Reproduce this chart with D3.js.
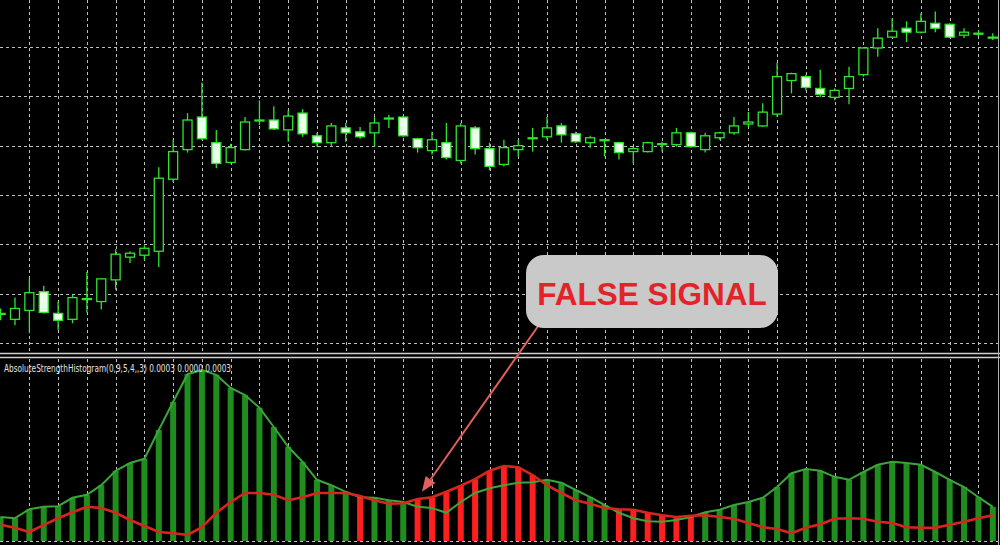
<!DOCTYPE html>
<html><head><meta charset="utf-8">
<script src="https://cdn.jsdelivr.net/npm/d3@7"></script>
<style>html,body{margin:0;padding:0;background:#000;overflow:hidden}</style>
</head><body><svg id="c" width="1000" height="545"></svg>
<script>
// ---- Price panel (OHLC per bar) ----
const open = [
1.35029,1.35024,1.35033,1.35052,1.35030,1.35024,1.35044,1.35042,1.35064,1.35087,
1.35089,1.35093,1.35166,1.35196,1.35229,1.35203,1.35183,1.35196,1.35225,1.35226,
1.35216,1.35233,1.35210,1.35203,1.35218,1.35214,1.35213,1.35227,1.35229,1.35207,
1.35195,1.35203,1.35185,1.35218,1.35197,1.35181,1.35196,1.35207,1.35209,1.35220,
1.35212,1.35203,1.35206,1.35203,1.35194,1.35194,1.35201,1.35201,1.35213,1.35196,
1.35208,1.35213,1.35222,1.35220,1.35232,1.35266,1.35270,1.35258,1.35249,1.35258,
1.35272,1.35299,1.35310,1.35319,1.35315,1.35324,1.35323,1.35312,1.35314,1.35310];
const high = [
1.35035,1.35046,1.35065,1.35058,1.35042,1.35049,1.35072,1.35065,1.35095,1.35093,
1.35099,1.35178,1.35206,1.35233,1.35264,1.35216,1.35202,1.35229,1.35246,1.35240,
1.35236,1.35237,1.35213,1.35223,1.35223,1.35219,1.35229,1.35231,1.35230,1.35208,
1.35214,1.35223,1.35223,1.35220,1.35203,1.35206,1.35206,1.35218,1.35229,1.35223,
1.35214,1.35210,1.35207,1.35204,1.35199,1.35204,1.35204,1.35218,1.35214,1.35213,
1.35214,1.35229,1.35234,1.35243,1.35284,1.35274,1.35272,1.35277,1.35258,1.35280,
1.35300,1.35319,1.35329,1.35326,1.35334,1.35336,1.35324,1.35319,1.35317,1.35314];
const low = [
1.35023,1.35018,1.35010,1.35030,1.35013,1.35020,1.35031,1.35034,1.35054,1.35081,
1.35084,1.35077,1.35163,1.35193,1.35206,1.35177,1.35182,1.35195,1.35221,1.35216,
1.35204,1.35209,1.35199,1.35199,1.35204,1.35207,1.35199,1.35218,1.35209,1.35193,
1.35191,1.35186,1.35182,1.35191,1.35175,1.35179,1.35189,1.35194,1.35206,1.35203,
1.35203,1.35198,1.35189,1.35186,1.35182,1.35193,1.35194,1.35199,1.35198,1.35193,
1.35206,1.35211,1.35219,1.35219,1.35229,1.35253,1.35256,1.35249,1.35246,1.35242,
1.35270,1.35290,1.35309,1.35305,1.35314,1.35315,1.35309,1.35309,1.35311,1.35307];
const close = [
1.35030,1.35035,1.35051,1.35031,1.35023,1.35046,1.35045,1.35065,1.35090,1.35091,
1.35096,1.35167,1.35194,1.35226,1.35207,1.35182,1.35198,1.35224,1.35226,1.35217,
1.35230,1.35212,1.35203,1.35220,1.35213,1.35209,1.35223,1.35228,1.35210,1.35198,
1.35206,1.35188,1.35220,1.35197,1.35179,1.35198,1.35200,1.35208,1.35218,1.35211,
1.35204,1.35208,1.35205,1.35193,1.35197,1.35203,1.35202,1.35213,1.35199,1.35210,
1.35213,1.35220,1.35224,1.35234,1.35270,1.35273,1.35259,1.35252,1.35256,1.35270,
1.35299,1.35309,1.35316,1.35315,1.35326,1.35319,1.35310,1.35315,1.35313,1.35309];
const priceTicks = [1.35000,1.35050,1.35100,1.35150,1.35200,1.35250,1.35300];

// ---- Absolute Strength Histogram (bulls / bears) ----
const bulls = [
0.000040,0.000038,0.000053,0.000057,0.000058,0.000072,0.000077,0.000093,0.000117,0.000130,
0.000137,0.000185,0.000232,0.000278,0.000285,0.000277,0.000255,0.000243,0.000222,0.000190,
0.000157,0.000132,0.000102,0.000093,0.000082,0.000073,0.000072,0.000068,0.000065,0.000057,
0.000055,0.000047,0.000065,0.000080,0.000088,0.000093,0.000097,0.000098,0.000102,0.000097,
0.000085,0.000073,0.000060,0.000047,0.000038,0.000033,0.000032,0.000035,0.000040,0.000048,
0.000052,0.000060,0.000065,0.000072,0.000090,0.000113,0.000120,0.000117,0.000107,0.000102,
0.000115,0.000127,0.000132,0.000130,0.000127,0.000115,0.000102,0.000090,0.000073,0.000057];
const bears = [
0.000027,0.000022,0.000015,0.000027,0.000038,0.000048,0.000057,0.000055,0.000047,0.000035,
0.000025,0.000015,0.000013,0.000010,0.000023,0.000047,0.000065,0.000080,0.000080,0.000077,
0.000068,0.000073,0.000080,0.000080,0.000080,0.000075,0.000068,0.000062,0.000063,0.000070,
0.000073,0.000082,0.000092,0.000103,0.000117,0.000125,0.000123,0.000110,0.000093,0.000080,
0.000068,0.000062,0.000055,0.000053,0.000052,0.000047,0.000043,0.000040,0.000042,0.000043,
0.000040,0.000037,0.000030,0.000023,0.000020,0.000013,0.000022,0.000028,0.000037,0.000038,
0.000037,0.000032,0.000030,0.000023,0.000022,0.000022,0.000027,0.000032,0.000038,0.000043];
const indicatorLabel = "AbsoluteStrengthHistogram(0,9,5,4,,3) 0.0003 0.0000 0.0003";
const callout = {text: "FALSE SIGNAL", index: 29.3, value: 0.000082};

const W = 1000, H = 545;
const svg = d3.select('#c');
svg.append('rect').attr('width', W).attr('height', H).attr('fill', '#000');

const n = open.length;
const x = d3.scaleLinear().domain([0, n - 1]).range([0.6, 992.8]);
const y = d3.scaleLinear().domain([1.35, 1.353]).range([343, 47]);
const yH = d3.scaleLinear().domain([0, 0.000305]).range([541, 358]);
const gridIdx = d3.range(2, n, 2);
const gridCol = '#bfbfbf';

// main grid
const g0 = svg.append('g').attr('stroke', gridCol).attr('stroke-width', 1).attr('stroke-dasharray', '3,3');
g0.selectAll('.h').data(priceTicks).join('line')
  .attr('x1', 0).attr('x2', 998).attr('y1', d => Math.round(y(d)) + 0.5).attr('y2', d => Math.round(y(d)) + 0.5);
g0.selectAll('.v').data(gridIdx).join('line')
  .attr('x1', d => Math.round(x(d)) + 0.5).attr('x2', d => Math.round(x(d)) + 0.5).attr('y1', 0).attr('y2', 352);
// bottom grid
const g1 = svg.append('g').attr('stroke', gridCol).attr('stroke-width', 1).attr('stroke-dasharray', '3,3');
g1.selectAll('line.v').data(gridIdx).join('line')
  .attr('x1', d => Math.round(x(d)) + 0.5).attr('x2', d => Math.round(x(d)) + 0.5).attr('y1', 359).attr('y2', 541);
g1.append('line').attr('x1', 0).attr('x2', 998).attr('y1', Math.round(yH(0)) + 0.5).attr('y2', Math.round(yH(0)) + 0.5);

// candles
const cG = '#2fe42f';
const candles = svg.append('g');
const idx = d3.range(n);
candles.selectAll('line.w').data(idx).join('line')
  .attr('x1', i => x(i)).attr('x2', i => x(i))
  .attr('y1', i => y(high[i])).attr('y2', i => y(low[i]))
  .attr('stroke', cG).attr('stroke-width', 1.3);
candles.selectAll('rect').data(idx).join('rect')
  .attr('x', i => x(i) - 4.5).attr('width', 9)
  .attr('y', i => y(Math.max(open[i], close[i])))
  .attr('height', i => Math.max(0.8, Math.abs(y(open[i]) - y(close[i]))))
  .attr('fill', i => close[i] >= open[i] ? '#000' : '#eaffea')
  .attr('stroke', cG).attr('stroke-width', 1.3);

// separators & border
svg.append('line').attr('x1', 0).attr('x2', W).attr('y1', 353.5).attr('y2', 353.5).attr('stroke', '#d0d0d0').attr('stroke-width', 1.5);
svg.append('line').attr('x1', 0).attr('x2', W).attr('y1', 357.5).attr('y2', 357.5).attr('stroke', '#d0d0d0').attr('stroke-width', 1.5);
svg.append('line').attr('x1', 998.5).attr('x2', 998.5).attr('y1', 0).attr('y2', H).attr('stroke', '#b0b0b0').attr('stroke-width', 1);

// histogram
const hist = svg.append('g');
hist.selectAll('rect').data(idx).join('rect')
  .attr('x', i => x(i) - 3).attr('width', 6)
  .attr('y', i => yH(Math.max(bulls[i], bears[i])))
  .attr('height', i => yH(0) - yH(Math.max(bulls[i], bears[i])))
  .attr('fill', i => bulls[i] >= bears[i] ? '#1f8e1f' : '#ff1f1f');
const line = d3.line().x((d, i) => x(i)).y(d => yH(d));
svg.append('path').attr('d', line(bulls)).attr('fill', 'none').attr('stroke', '#3aa63a').attr('stroke-width', 2);
svg.append('path').attr('d', line(bears)).attr('fill', 'none').attr('stroke', '#d8261c').attr('stroke-width', 2.6);

// indicator label
svg.append('text').attr('x', 4).attr('y', 372).text(indicatorLabel)
  .attr('fill', '#e0e0e0').attr('font-size', 10.5)
  .attr('font-family', 'Liberation Sans Narrow, DejaVu Sans Condensed, Liberation Sans, sans-serif')
  .attr('textLength', 227).attr('lengthAdjust', 'spacingAndGlyphs');

// callout box + arrow
const box = {x: 526, y: 255, w: 252, h: 73};
const tip = [x(callout.index), yH(callout.value)];
const start = [541, 322];
const ang = Math.atan2(tip[1] - start[1], tip[0] - start[0]);
const hl = 15, hw = 6;
const base = [tip[0] - hl * Math.cos(ang), tip[1] - hl * Math.sin(ang)];
svg.append('line').attr('x1', start[0]).attr('y1', start[1]).attr('x2', base[0]).attr('y2', base[1])
  .attr('stroke', '#e2605c').attr('stroke-width', 2);
svg.append('path').attr('d', d3.line()([tip,
  [base[0] + hw * Math.sin(ang), base[1] - hw * Math.cos(ang)],
  [base[0] - hw * Math.sin(ang), base[1] + hw * Math.cos(ang)]]) + 'Z')
  .attr('fill', '#e2605c');
svg.append('rect').attr('x', box.x).attr('y', box.y).attr('width', box.w).attr('height', box.h)
  .attr('rx', 18).attr('ry', 18).attr('fill', '#c9c9c9');
svg.append('text').attr('x', box.x + box.w / 2).attr('y', 305).attr('text-anchor', 'middle')
  .text(callout.text).attr('fill', '#e2242a').attr('font-size', 31.5).attr('font-weight', 'bold')
  .attr('font-family', 'Liberation Sans, Arial, sans-serif');
</script></body></html>
